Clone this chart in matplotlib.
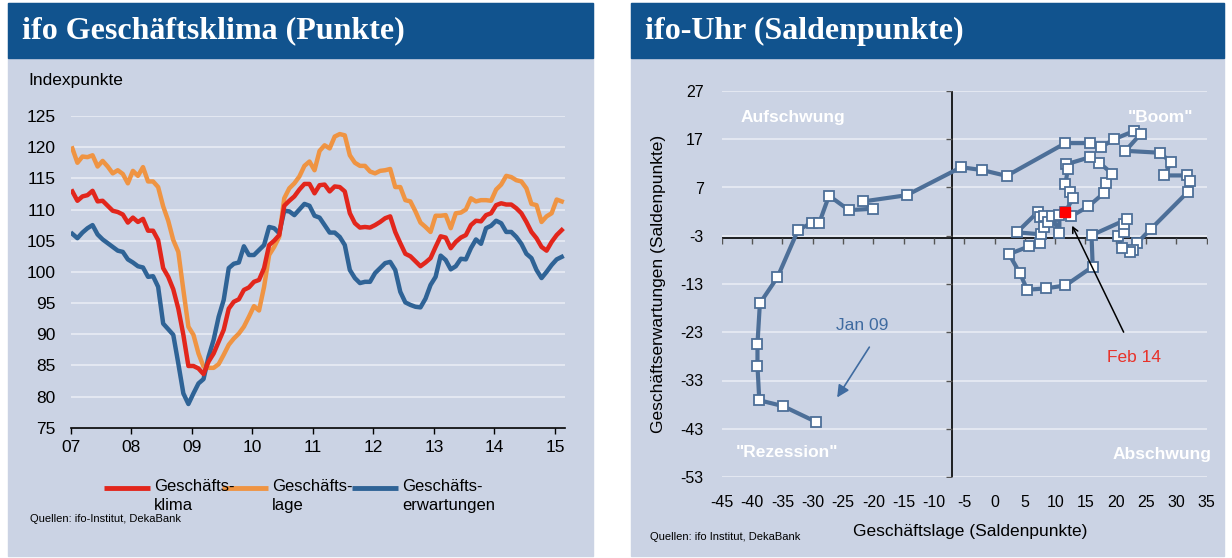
import matplotlib
matplotlib.use('Agg')
import matplotlib.pyplot as plt
from matplotlib.patches import Rectangle
from matplotlib.lines import Line2D

W, H = 1232, 558
BG = '#cbd3e4'
HEAD = '#11538e'
GRID = '#e9ecf4'

RED = '#e2261c'
ORANGE = '#ef9443'
BLUE = '#2f6396'
CLOCK = '#4d6f98'

# left chart: ifo index, monthly Jan 2007 - Feb 2015
KLIMA = [112.9, 111.4, 112.1, 112.3, 113.0, 111.3, 111.4, 110.6, 109.8, 109.6,
         109.2, 107.9, 108.7, 108.0, 108.5, 106.6, 106.6, 105.1, 100.6, 99.2,
         97.2, 94.1, 89.9, 84.9, 84.9, 84.5, 83.6, 85.6, 86.9, 88.8,
         90.7, 94.1, 95.2, 95.6, 97.1, 97.5, 98.4, 98.7, 100.6, 104.3,
         105.0, 105.9, 110.6, 111.4, 112.1, 113.2, 114.1, 114.1, 112.6, 113.9,
         114.0, 112.9, 113.7, 113.6, 112.9, 109.4, 107.8, 107.1, 107.2, 107.1,
         107.5, 108.0, 108.6, 108.9, 106.4, 104.6, 102.9, 102.5, 101.7, 100.9,
         101.5, 102.2, 104.0, 105.7, 105.5, 103.8, 104.8, 105.5, 105.9, 107.5,
         108.2, 108.1, 109.1, 109.4, 110.7, 111.0, 110.8, 110.8, 110.2, 109.4,
         108.0, 106.4, 105.4, 104.0, 103.4, 104.8, 105.9, 106.7]
LAGE = [119.8, 117.5, 118.5, 118.4, 118.7, 116.9, 117.8, 116.9, 115.8, 116.3,
        115.7, 114.2, 116.2, 115.4, 116.8, 114.5, 114.5, 113.6, 110.5, 108.2,
        105.1, 103.2, 97.1, 91.2, 89.9, 86.9, 84.8, 84.6, 84.6, 85.2,
        86.7, 88.3, 89.3, 90.1, 91.2, 92.8, 94.5, 93.8, 97.6, 102.7,
        104.0, 105.6, 111.8, 113.4, 114.2, 115.3, 117.0, 117.7, 116.3, 119.4,
        120.3, 119.8, 121.7, 122.1, 121.9, 118.7, 117.5, 117.0, 117.0, 116.1,
        115.8, 116.2, 116.3, 116.5, 113.6, 113.6, 111.5, 111.3, 109.7, 107.9,
        107.2, 106.4, 109.0, 109.0, 109.1, 107.0, 109.4, 109.5, 110.0, 111.8,
        111.3, 111.5, 111.5, 111.4, 113.2, 114.0, 115.4, 115.2, 114.7, 114.5,
        113.4, 110.9, 110.7, 108.0, 108.9, 109.4, 111.6, 111.3]
ERWARTUNGEN = [106.1, 105.4, 106.3, 107.0, 107.5, 106.0, 105.2, 104.6, 104.0, 103.4,
               103.2, 102.0, 101.5, 100.9, 100.7, 99.2, 99.3, 97.6, 91.7, 90.8,
               89.9, 85.3, 80.5, 78.8, 80.5, 82.1, 82.8, 86.4, 89.1, 92.8,
               95.5, 100.6, 101.3, 101.5, 104.1, 102.7, 102.7, 103.5, 104.3, 107.2,
               107.0, 106.2, 109.8, 109.7, 109.1, 110.0, 110.9, 110.6, 109.0, 108.7,
               107.5, 106.3, 106.3, 105.6, 104.3, 100.3, 99.0, 98.2, 98.4, 98.4,
               99.8, 100.6, 101.4, 101.6, 100.3, 96.8, 95.1, 94.7, 94.4, 94.3,
               95.7, 97.9, 99.2, 102.6, 101.9, 100.4, 100.9, 102.1, 102.0, 103.8,
               105.2, 104.5, 107.0, 107.4, 108.2, 107.8, 106.4, 106.4, 105.6, 104.5,
               102.9, 102.2, 100.3, 99.0, 100.0, 101.1, 102.0, 102.4]
YEARS = [2007, 2008, 2009, 2010, 2011, 2012, 2013, 2014, 2015]
YEAR_LABELS = ['07', '08', '09', '10', '11', '12', '13', '14', '15']
SERIES_NAMES = ['Geschäfts-\nklima', 'Geschäfts-\nlage', 'Geschäfts-\nerwartungen']

# right chart: ifo-Uhr path (Lage, Erwartungen), Jan 09 ... Feb 14
UHR_LAGE = [-29.4, -34.9, -38.8, -39.1, -39.1, -38.7, -35.8, -32.4, -30.1, -28.9,
            -27.3, -24.0, -20.1, -21.7, -14.5, -5.5, -2.0, 2.0, 11.7, 15.7,
            17.5, 19.7, 23.0, 24.1, 21.6, 27.3, 29.1, 28.0, 31.7, 32.3,
            31.9, 25.8, 23.5, 22.8, 22.4, 21.0, 20.4, 21.3, 21.4, 21.8,
            16.0, 16.2, 11.7, 8.5, 5.4, 4.2, 2.4, 5.7, 7.5, 7.7,
            3.7, 7.2, 7.5, 8.2, 8.1, 8.8, 9.5, 10.7, 10.7, 12.6,
            15.5, 18.0, 18.4, 19.4, 17.3, 15.8, 11.8, 12.1, 11.7, 12.4,
            12.9, 11.7]
UHR_ERW = [-41.6, -38.3, -37.1, -30.0, -25.4, -17.0, -11.6, -1.8, -0.3, -0.3,
           5.3, 2.3, 2.6, 4.1, 5.4, 11.2, 10.6, 9.4, 16.2, 16.2,
           15.3, 17.0, 18.7, 18.1, 14.6, 14.2, 12.2, 9.5, 9.5, 8.4,
           6.1, -1.6, -4.5, -6.0, -6.3, -5.6, -3.1, -2.3, -0.6, 0.4,
           -2.9, -9.4, -13.3, -13.9, -14.2, -10.8, -6.8, -5.2, -4.4, -2.7,
           -2.3, 2.0, 0.85, 1.1, -1.1, -0.25, 1.0, -2.5, 1.3, 1.0,
           3.1, 5.8, 8.0, 9.9, 12.1, 13.3, 11.8, 10.9, 7.7, 6.0,
           4.8, 1.9]
UHR_XTICKS = list(range(-45, 40, 5))
UHR_YTICKS = list(range(-53, 28, 10))
X_CROSS = -7.0
Y_CROSS = -3.4

plt.rcParams['font.family'] = ['Liberation Sans', 'DejaVu Sans']
plt.rcParams['axes.unicode_minus'] = False


def px_box(x0, y0, x1, y1):
    return [x0 / W, 1 - y1 / H, (x1 - x0) / W, (y1 - y0) / H]


def panel(fig, x0, x1, title):
    fig.add_artist(Rectangle((x0 / W, 1 - 556 / H), (x1 - x0) / W, 553 / H,
                             transform=fig.transFigure, color=BG, zorder=-10))
    fig.add_artist(Rectangle((x0 / W, 1 - 58 / H), (x1 - x0) / W, 55 / H,
                             transform=fig.transFigure, color=HEAD, zorder=-9))
    fig.text((x0 + 14) / W, 1 - 31 / H, title, family='Liberation Serif',
             weight='bold', size=23, color='white', va='center')


def legend_entry(fig, x, y, color, label):
    # handle aligned with the first text line, like the original
    fig.add_artist(Line2D([x / W, (x + 46) / W], [1 - y / H, 1 - y / H],
                          transform=fig.transFigure, color=color, lw=3.5,
                          solid_capstyle='butt'))
    fig.text((x + 50) / W, 1 - (y - 9) / H, label, size=12, va='top',
             linespacing=1.3)


def left_chart(fig):
    ax = fig.add_axes(px_box(70.7, 116, 565, 427.7))
    ax.set_facecolor('none')
    xs = [2007 + (m + 0.33) / 12 for m in range(len(KLIMA))]
    ax.plot(xs, KLIMA, color=RED, lw=3.2, zorder=3)
    ax.plot(xs, LAGE, color=ORANGE, lw=3.2, zorder=2)
    ax.plot(xs, ERWARTUNGEN, color=BLUE, lw=3.2, zorder=2.5)
    ax.set_xlim(2007, 2015.165)
    ax.set_ylim(75, 125)
    ax.set_yticks(range(75, 126, 5))
    ax.set_xticks(YEARS)
    ax.set_xticklabels(YEAR_LABELS)
    ax.grid(axis='y', color=GRID, lw=1.2)
    ax.set_axisbelow(True)
    for s in ['top', 'right', 'left']:
        ax.spines[s].set_visible(False)
    ax.spines['bottom'].set_linewidth(1.2)
    ax.tick_params(axis='y', length=0, pad=11, labelsize=12.5)
    ax.tick_params(axis='x', length=4.5, width=1, pad=4, labelsize=12.5)
    fig.text(28 / W, 1 - 80 / H, 'Indexpunkte', size=12.5, va='center')

    for x, color, name in zip([104, 222, 352], [RED, ORANGE, BLUE], SERIES_NAMES):
        legend_entry(fig, x, 488, color, name)
    fig.text(30 / W, 1 - 522 / H, 'Quellen: ifo-Institut, DekaBank', size=8)


def right_chart(fig):
    ax = fig.add_axes(px_box(721.7, 91, 1206.7, 477))
    ax.set_facecolor('none')
    ax.set_xlim(-45, 35)
    ax.set_ylim(-53, 27)
    ax.set_xticks(UHR_XTICKS)
    ax.set_yticks(UHR_YTICKS)
    ax.grid(axis='y', color=GRID, lw=1.2)
    ax.set_axisbelow(True)
    for s in ax.spines.values():
        s.set_visible(False)
    ax.tick_params(axis='x', length=0, pad=13, labelsize=11.5)
    ax.tick_params(axis='y', length=0, pad=13, labelsize=11.5)

    # axis cross with small ticks
    ax.axhline(Y_CROSS, color='black', lw=1.2, zorder=1)
    ax.axvline(X_CROSS, color='black', lw=1.2, zorder=1)
    ax.plot(UHR_XTICKS, [Y_CROSS] * len(UHR_XTICKS), lw=0, marker=3, ms=4,
            mew=1, color='#555555', zorder=1)
    ax.plot([X_CROSS] * len(UHR_YTICKS), UHR_YTICKS, lw=0, marker=0, ms=4,
            mew=1, color='#555555', zorder=1)

    ax.plot(UHR_LAGE, UHR_ERW, color=CLOCK, lw=3, marker='s', ms=7.5,
            mfc='white', mec=CLOCK, mew=1.3, zorder=3)
    ax.plot(UHR_LAGE[-1:], UHR_ERW[-1:], lw=0, marker='s', ms=7.5,
            mfc='red', mec='red', zorder=4)

    ax.set_xlabel('Geschäftslage (Saldenpunkte)', size=12.5)
    ax.set_ylabel('Geschäftserwartungen (Saldenpunkte)', size=12.5)
    ax.xaxis.set_label_coords(0.512, -0.122)
    ax.yaxis.set_label_coords(-0.115, 0.5)

    quad = dict(color='white', weight='bold', size=12.5, ha='center', va='center')
    ax.text(-33.2, 21.6, 'Aufschwung', **quad)
    ax.text(27.3, 21.6, '"Boom"', **quad)
    ax.text(-34.2, -48.0, '"Rezession"', **quad)
    ax.text(27.7, -48.4, 'Abschwung', **quad)

    ax.text(-21.9, -21.6, 'Jan 09', color='#3f6ba0', size=12.5,
            ha='center', va='center')
    ax.annotate('', xy=(-26.2, -37.0), xytext=(-20.4, -25.6),
                arrowprops=dict(arrowstyle='-|>', color='#3f6ba0', lw=1.2,
                                mutation_scale=18))
    ax.text(23.0, -28.2, 'Feb 14', color='#e8322a', size=12.5,
            ha='center', va='center')
    ax.annotate('', xy=(12.6, -0.4), xytext=(21.5, -23.5),
                arrowprops=dict(arrowstyle='->', color='black', lw=1.1),
                zorder=5)

    fig.text(650 / W, 1 - 540 / H, 'Quellen: ifo Institut, DekaBank', size=8)


def main():
    fig = plt.figure(figsize=(W / 100, H / 100), dpi=100)
    fig.patch.set_facecolor('white')
    panel(fig, 8, 593, 'ifo Geschäftsklima (Punkte)')
    panel(fig, 631, 1224, 'ifo-Uhr (Saldenpunkte)')
    left_chart(fig)
    right_chart(fig)
    fig.savefig('out.png', dpi=100)


if __name__ == '__main__':
    main()
